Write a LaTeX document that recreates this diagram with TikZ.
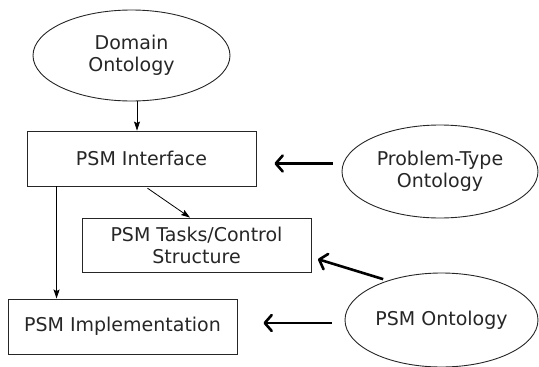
\documentclass[tikz,border=0pt]{standalone}
\usepackage{fontspec}
\setsansfont{DejaVu Sans}
\usetikzlibrary{arrows.meta}
\usetikzlibrary{shapes}

\begin{document}
\begin{tikzpicture}[x=1pt, y=-1pt, font=\sffamily\fontsize{19}{22}\selectfont]
	\tikzstyle{ovalStyle}=[shape = ellipse, draw = black!85, line width = 0.9pt, inner sep = 0pt, align = center, text = black!85]
	\tikzstyle{boxStyle}=[shape = rectangle, draw = black!85, line width = 0.9pt, inner sep = 0pt, align = center, text = black!85, minimum width = 229pt, minimum height = 55pt]
	\tikzstyle{thinArrow}=[line width = 0.8pt, -{Stealth[length=9pt, width=6pt, inset=1.5pt]}]
	\tikzstyle{thickArrow}=[line width = 2.6pt, -{Straight Barb[length=7pt, width=16pt, line cap=round, line join=round]}]
	\useasboundingbox (0,0) rectangle (539,367);
	\node[ovalStyle, minimum width = 197pt, minimum height = 91pt] (dom) at (131.5, 55.5) {Domain\\Ontology};
	\node[ovalStyle, minimum width = 196pt, minimum height = 93pt] (ptont) at (440, 171.5) {Problem-Type\\Ontology};
	\node[ovalStyle, minimum width = 193pt, minimum height = 94pt] (psmont) at (441.5, 320) {PSM Ontology};
	\node[boxStyle] (iface) at (141.5, 158.5) {PSM Interface};
	\node[boxStyle, minimum height = 54pt] (tasks) at (196.5, 245) {PSM Tasks/Control\\Structure};
	\node[boxStyle] (impl) at (122.5, 326.5) {PSM Implementation};
	\draw[thinArrow] ([xshift=5.5pt]dom.south) -- ([xshift=-4.5pt]iface.north);
	\draw[thinArrow] ([xshift=30pt]iface.south west) -- ([xshift=49pt]impl.north west);
	\draw[thinArrow, shorten <=3pt] ([xshift=3.5pt]iface.south) -- ([xshift=-6.5pt]tasks.north);
	\draw[thickArrow, shorten <=9pt, shorten >=18pt] ([yshift=8pt]ptont.west) -- ([yshift=-5pt]iface.east);
	\draw[thickArrow, shorten <=61pt, shorten >=127pt] ([yshift=23pt]psmont.center) -- ([yshift=23pt]tasks.center);
	\draw[thickArrow, shorten <=13pt, shorten >=26pt] ([yshift=-3pt]psmont.west) -- ([yshift=3.5pt]impl.east);
\end{tikzpicture}
\end{document}
